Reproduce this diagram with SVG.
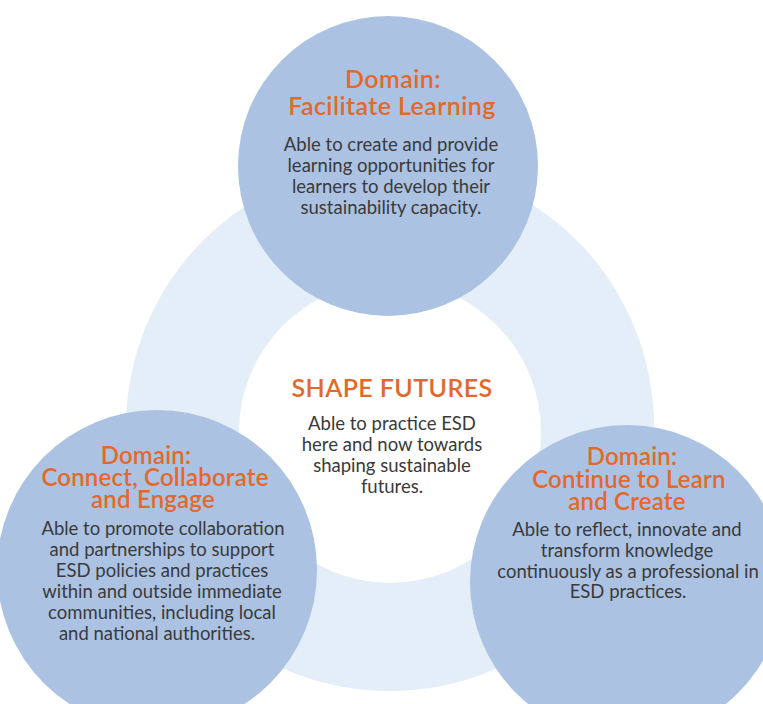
<svg xmlns="http://www.w3.org/2000/svg" width="763" height="704" viewBox="0 0 763 704">
<style>
.dom{fill:#abc2e3}
.ring{fill:#e4eef8}
.ttl{font-family:Lato,"Open Sans",sans-serif;font-weight:600;font-size:25px;letter-spacing:0.4px;fill:#e2692a;text-anchor:middle}
.ttl.s{font-size:24px;letter-spacing:0.2px}
.bd{font-family:Lato,"Open Sans",sans-serif;font-size:18.5px;fill:#3a3a3a;text-anchor:middle}
</style>
<rect width="763" height="704" fill="#ffffff"/>
<g id="ring">
<circle class="ring" cx="390" cy="427" r="264"/>
</g>
<g id="shape-futures">
<circle cx="390" cy="432" r="151" fill="#ffffff"/>
<text class="ttl" x="392" y="397">SHAPE FUTURES</text>
<text class="bd" x="392" y="430">Able to practice ESD</text>
<text class="bd" x="392" y="451">here and now towards</text>
<text class="bd" x="392" y="472">shaping sustainable</text>
<text class="bd" x="392" y="493">futures.</text>
</g>
<g id="facilitate-learning">
<circle class="dom" cx="388" cy="166" r="150"/>
<text class="ttl" x="393" y="88">Domain:</text>
<text class="ttl" x="392" y="115">Facilitate Learning</text>
<text class="bd" x="391" y="151">Able to create and provide</text>
<text class="bd" x="391" y="172">learning opportunities for</text>
<text class="bd" x="391" y="193">learners to develop their</text>
<text class="bd" x="391" y="214">sustainability capacity.</text>
</g>
<g id="connect-collaborate">
<circle class="dom" cx="157" cy="570" r="160"/>
<text class="ttl s" x="146" y="464">Domain:</text>
<text class="ttl s" x="155" y="486">Connect, Collaborate</text>
<text class="ttl s" x="153" y="508">and Engage</text>
<text class="bd" x="163" y="535">Able to promote collaboration</text>
<text class="bd" x="162" y="556">and partnerships to support</text>
<text class="bd" x="162" y="577">ESD policies and practices</text>
<text class="bd" x="162" y="598">within and outside immediate</text>
<text class="bd" x="162" y="619">communities, including local</text>
<text class="bd" x="157" y="640">and national authorities.</text>
</g>
<g id="continue-learn">
<circle class="dom" cx="627" cy="582" r="157"/>
<text class="ttl s" x="632" y="465">Domain:</text>
<text class="ttl s" x="629" y="488">Continue to Learn</text>
<text class="ttl s" x="627" y="510">and Create</text>
<text class="bd" x="627" y="536">Able to reflect, innovate and</text>
<text class="bd" x="627" y="557">transform knowledge</text>
<text class="bd" x="628" y="578">continuously as a professional in</text>
<text class="bd" x="628" y="598">ESD practices.</text>
</g>
<g id="connectors"/>
</svg>
